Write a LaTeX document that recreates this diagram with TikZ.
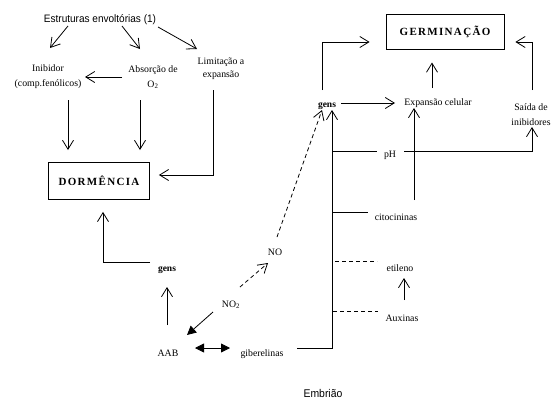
\documentclass[tikz,border=0pt]{standalone}
\usepackage{fontspec}
\setmainfont{Liberation Serif}
\newfontfamily\narrowsans[FakeStretch=0.93]{Liberation Sans}
\usetikzlibrary{arrows.meta}

\begin{document}
\begin{tikzpicture}[x=1pt,y=-1pt,
      lbl/.style={inner sep=1pt,align=center,font=\fontsize{9.8}{15}\selectfont},
      sanslbl/.style={inner sep=1pt,font=\narrowsans\fontsize{10.8}{12}\selectfont},
      gensnode/.style={inner sep=1pt,font=\fontsize{9.5}{10}\selectfont\bfseries},
      boxnode/.style={draw,line width=0.8pt,inner sep=0pt,
        font=\fontsize{11}{13}\selectfont\bfseries\addfontfeature{LetterSpace=12}},
      link/.style={line width=0.8pt},
      arr/.style={link,-{Straight Barb[length=9pt,width=11pt]}},
      solidarr/.style={link,-{Triangle[length=9pt,width=9pt]}},
      dashline/.style={link,dash pattern=on 4pt off 3pt}]

      \useasboundingbox (0,0) rectangle (560,407);

      \path node (est) at (100,20) [sanslbl] {Estruturas envoltórias (1)};
      \path node (inib) at (48,77) [lbl] {Inibidor\\(comp.fenólicos)};
      \path node (abs) at (153,77) [lbl] {Absorção de\\O\textsubscript{2}};
      \path node (lim) at (221,69) [lbl,font=\fontsize{9.8}{13}\selectfont]
            {Limitação a\\expansão};
      \path node (dorm) at (99,181)
            [boxnode,minimum width=101pt,minimum height=37pt] {DORMÊNCIA};
      \path node (germ) at (445,31.5)
            [boxnode,minimum width=118pt,minimum height=35pt] {GERMINAÇÃO};

      \path node (gensl) at (167,270) [gensnode] {gens};
      \path node (aab) at (168,353) [lbl] {AAB};
      \path node (notwo) at (231,305) [lbl] {NO\textsubscript{2}};
      \path node (no) at (275,252) [lbl] {NO};
      \path node (gib) at (262,354) [lbl] {giberelinas};

      \path node (gensr) at (327,106) [gensnode] {gens};
      \path node (exp) at (438,103) [lbl] {Expansão celular};
      \path node (said) at (531,115) [lbl] {Saída de\\inibidores};
      \path node (ph) at (390,155) [lbl] {pH};
      \path node (cito) at (396,217) [lbl] {citocininas};
      \path node (etil) at (400,268) [lbl] {etileno};
      \path node (aux) at (402,318) [lbl] {Auxinas};

      \path node (emb) at (323,393) [sanslbl,font=\narrowsans\fontsize{11.2}{12}\selectfont]
            {Embrião};

      \draw[arr] ([shift={(-32,6)}]est.center) -- ([shift={(2,-29)}]inib.center);
      \draw[arr] ([shift={(22,6)}]est.center) -- ([shift={(-13,-28)}]abs.center);
      \draw[arr] ([shift={(58,7)}]est.center) -- ([shift={(-24,-20)}]lim.center);
      \draw[arr] ([shift={(-31,0)}]abs.center) -- ([shift={(37,0)}]inib.center);
      \draw[arr] ([shift={(20,23)}]inib.center) -- ([shift={(-31,-31)}]dorm.center);
      \draw[arr] ([shift={(-13,23)}]abs.center) -- ([shift={(41,-31)}]dorm.center);
      \draw[arr] ([shift={(-8,21)}]lim.center) |- ([shift={(9,-6)}]dorm.east);

      \draw[arr] ([shift={(-17,-8)}]gensl.center) -| ([shift={(4,12)}]dorm.south);
      \draw[arr] ([shift={(-1,-28)}]aab.center) -- ([shift={(0,17)}]gensl.center);
      \draw[solidarr] ([shift={(-18,7)}]notwo.center) -- ([shift={(19,-18)}]aab.center);
      \draw[arr,dashline] ([shift={(9,-18)}]notwo.center) -- ([shift={(-7,11)}]no.center);
      \draw[arr,dashline] ([shift={(2,-15)}]no.center) -- ([shift={(-5,4)}]gensr.center);
      \draw[link,{Triangle[length=9pt,width=9pt]}-{Triangle[length=9pt,width=9pt]}]
            ([shift={(27,-5)}]aab.center) -- ([shift={(-32,-6)}]gib.center);

      \draw[arr] ([shift={(-5,-16)}]gensr.center) |- ([shift={(-16,10.5)}]germ.west);
      \draw[arr] ([shift={(14,-3)}]gensr.center) -- ([shift={(-43,0)}]exp.center);
      \draw[arr] ([shift={(-6,-15)}]exp.center) -- ([shift={(-13,31)}]germ.center);
      \draw[arr] ([shift={(1,-25)}]said.center) |- ([shift={(11,10.5)}]germ.east);
      \draw[arr] ([shift={(35,-6)}]gib.center) -| ([shift={(5,4)}]gensr.center);

      \draw[link] ([shift={(-58,-4)}]ph.center) -- ([shift={(-13,-4)}]ph.center);
      \draw[arr] ([shift={(14,-4)}]ph.center) -| ([shift={(1,12)}]said.center);
      \draw[link] ([shift={(-64,-5)}]cito.center) -- ([shift={(-28,-5)}]cito.center);
      \draw[arr] ([shift={(18,-17)}]cito.center) -- ([shift={(-24,5)}]exp.center);
      \draw[dashline] ([shift={(-65,-7)}]etil.center) -- ([shift={(-23,-7)}]etil.center);
      \draw[dashline] ([shift={(-69,-7)}]aux.center) -- ([shift={(-24,-7)}]aux.center);
      \draw[arr] ([shift={(2,-18)}]aux.center) -- ([shift={(4,10)}]etil.center);
\end{tikzpicture}
\end{document}
